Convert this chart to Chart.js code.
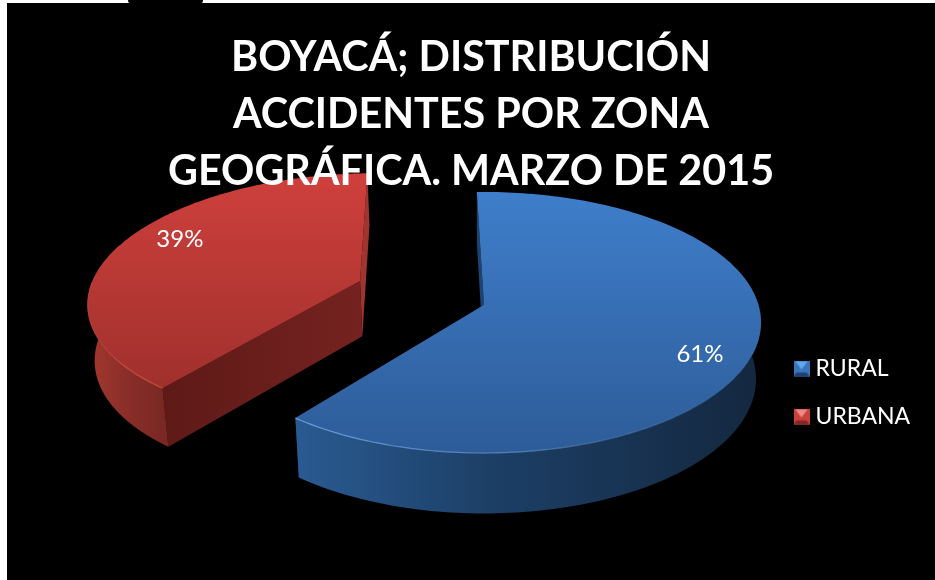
<!DOCTYPE html>
<html><head><meta charset="utf-8">
<style>
html,body{margin:0;padding:0;background:#fff;width:935px;height:580px;overflow:hidden}
#tab{position:absolute;left:128px;top:0;width:75px;height:4px;background:#000;border-radius:0 0 8px 8px}
canvas{position:absolute;left:7px;top:3px;background:#000}
</style>
<script src="https://cdn.jsdelivr.net/npm/chart.js@4"></script>
</head><body>
<canvas id="c" width="928" height="577"></canvas><div id="tab"></div>
<script>
const titleLines = ['BOYACÁ; DISTRIBUCIÓN', 'ACCIDENTES POR ZONA', 'GEOGRÁFICA. MARZO DE 2015'];
const categories = ['RURAL', 'URBANA'];
const shares = [61, 39];

const FONT = 'Lato, "Open Sans", sans-serif';
const CENTER = {x: 477, y: 302}, RADIUS = 274.5;
const TILT = 0.467, PERSP = 0.134, DEPTH = 56;
const explode = [[0, 0], [-0.463, -0.192]];
const labelNudge = [[0, 16], [13, -12]];
const looks = [
  {top: ['#3f7ecb', '#2d5c98'], wall: ['#2a5a92', '#1c3f66', '#14273f'], startFace: ['#1c4470', '#1c4470'], endFace: ['#1c4470', '#1c4470'],
   edge: ['rgba(120,175,240,.8)', 'rgba(120,175,240,.5)', 'rgba(120,175,240,0)'], leg: ['#62a8f0', '#3a74bb', '#1f436f']},
  {top: ['#cf403c', '#a0302d'], wall: ['#a5382f', '#8a2e28', '#7a2824'], startFace: ['#5e1a17', '#752220'], endFace: ['#a0342f', '#a0342f'],
   edge: ['rgba(225,90,80,.25)', 'rgba(225,90,80,.7)', 'rgba(225,90,80,.7)'], leg: ['#f08a85', '#c9403c', '#7f2825']}
];

function bevel(l) {
  const c = document.createElement('canvas'); c.width = 16; c.height = 16;
  const g = c.getContext('2d');
  const tri = (col, pts) => { g.fillStyle = col; g.beginPath(); pts.forEach((p, i) => i ? g.lineTo(p[0], p[1]) : g.moveTo(p[0], p[1])); g.closePath(); g.fill(); };
  tri(l[1], [[0,0],[16,0],[16,16],[0,16]]);
  tri(l[2], [[0,16],[16,16],[13,12],[3,12]]);
  tri(l[0], [[2,1],[14,1],[8,9]]);
  return c;
}
const icons = looks.map(l => bevel(l.leg));

const pie3d = {
  id: 'pie3d',
  beforeLayout(chart) {
    const block = chart.titleBlock; // title sits in front of the pie
    if (block) block._layers = () => [{z: 1, draw(area) { block.draw(area); }}];
  },
  afterLayout(chart) {
    chart.chartArea = {left: CENTER.x - RADIUS, right: CENTER.x + RADIUS, top: CENTER.y - RADIUS, bottom: CENTER.y + RADIUS, width: RADIUS * 2, height: RADIUS * 2};
    const lg = chart.legend;
    const w = lg.right - lg.left;
    lg.left = 767; lg.right = lg.left + w;
    lg.top = 329; lg.bottom = lg.top + lg.height;
  },
  beforeDatasetDraw(chart, args) {
    const ctx = chart.ctx;
    const arcs = args.meta.data;
    const proj = (arc, i, r, a, z) => {
      const S = arc.outerRadius, T = S * TILT;
      const u = r * Math.cos(a) + explode[i][0], v = r * Math.sin(a) + explode[i][1];
      const w = 1 - PERSP * v;
      const X = S * u / w, Y = T * v / w;
      return [arc.x + X * (1 - 0.018 * z), arc.y + Y * (1 + 0.03 * z) + DEPTH * z];
    };
    const samples = (arc, i, z) => {
      const out = [], n = 180;
      for (let k = 0; k <= n; k++) {
        const a = arc.startAngle + (arc.endAngle - arc.startAngle) * k / n;
        out.push(proj(arc, i, 1, a, z));
      }
      return out;
    };
    const poly = (pts, fill) => {
      ctx.beginPath();
      pts.forEach((p, k) => k ? ctx.lineTo(p[0], p[1]) : ctx.moveTo(p[0], p[1]));
      ctx.closePath(); ctx.fillStyle = fill; ctx.fill();
    };
    const faceGrad = (a, b, cols) => {
      const g = ctx.createLinearGradient(Math.min(a[0], b[0]), 0, Math.max(a[0], b[0]) + 1, 0);
      g.addColorStop(0, cols[0]); g.addColorStop(1, cols[1]);
      return g;
    };
    arcs.forEach((arc, i) => {
      const look = looks[i];
      const top = samples(arc, i, 0), bot = samples(arc, i, 1);
      const apex0 = proj(arc, i, 0, 0, 0), apex1 = proj(arc, i, 0, 0, 1);
      const ys = top.map(p => p[1]);
      const minY = Math.min(...ys), maxY = Math.max(...ys);
      const s0 = top[0], s1 = bot[0], e0 = top[top.length - 1], e1 = bot[bot.length - 1];
      // radial faces
      poly([apex0, e0, e1, apex1], faceGrad(apex0, e0, look.endFace));
      poly([apex0, s0, s1, apex1], faceGrad(apex0, s0, look.startFace));
      // outer wall
      const angleAt = k => arc.startAngle + (arc.endAngle - arc.startAngle) * k / 180;
      const front = [], frontB = [];
      top.forEach((p, k) => { if (Math.sin(angleAt(k)) > -0.3) { front.push(p); frontB.push(bot[k]); } });
      const wxs = front.map(p => p[0]);
      const x0 = Math.min(...wxs), x1 = Math.max(...wxs);
      const wg = ctx.createLinearGradient(x0, 0, x1, 0);
      const wStops = i === 0 ? [0, .42, 1] : [0, .5, 1];
      look.wall.forEach((c, k) => wg.addColorStop(wStops[k], c));
      poly(front.concat(frontB.slice().reverse()), wg);
      // top surface
      const tg = ctx.createLinearGradient(0, minY, 0, maxY);
      tg.addColorStop(0, look.top[0]); tg.addColorStop(1, look.top[1]);
      poly([apex0].concat(top), tg);
      // rim highlight on the front edge
      const rg = ctx.createLinearGradient(x0, 0, x1, 0);
      look.edge.forEach((c, k) => rg.addColorStop(k / 2, c));
      ctx.beginPath();
      let started = false;
      top.forEach((p, k) => { if (Math.sin(angleAt(k)) > 0) { started ? ctx.lineTo(p[0], p[1]) : ctx.moveTo(p[0], p[1]); started = true; } });
      ctx.strokeStyle = rg; ctx.lineWidth = 1.2; ctx.stroke();
    });
    // percent labels
    ctx.font = '24px ' + FONT; ctx.fillStyle = '#fff'; ctx.textAlign = 'center'; ctx.textBaseline = 'middle';
    arcs.forEach((arc, i) => {
      const mid = (arc.startAngle + arc.endAngle) / 2;
      const p = proj(arc, i, 0.8, mid, 0);
      ctx.fillText(shares[i] + '%', p[0] + labelNudge[i][0], p[1] + labelNudge[i][1]);
    });
    return false;
  }
};

new Chart(document.getElementById('c'), {
  type: 'pie',
  data: {labels: categories, datasets: [{data: shares, backgroundColor: ['#3f7ecb', '#cf403c'], borderWidth: 0}]},
  plugins: [pie3d],
  options: {
    responsive: false, animation: false, rotation: -1.7,
    layout: {padding: 0},
    plugins: {
      tooltip: {enabled: false},
      title: {display: true, text: titleLines, color: '#fff', padding: {top: 26, bottom: 0},
        font: {family: FONT, weight: '700', size: 41.3, lineHeight: 1.38}},
      legend: {position: 'right', align: 'start',
        labels: {color: '#fff', font: {family: FONT, size: 23}, usePointStyle: true, pointStyleWidth: 5, padding: 25,
          generateLabels: () => categories.map((t, i) => ({text: t, fillStyle: looks[i].top[0], strokeStyle: 'transparent', lineWidth: 0, pointStyle: icons[i], datasetIndex: 0, index: i, fontColor: '#fff'}))}}
    }
  }
});
</script>
</body></html>
